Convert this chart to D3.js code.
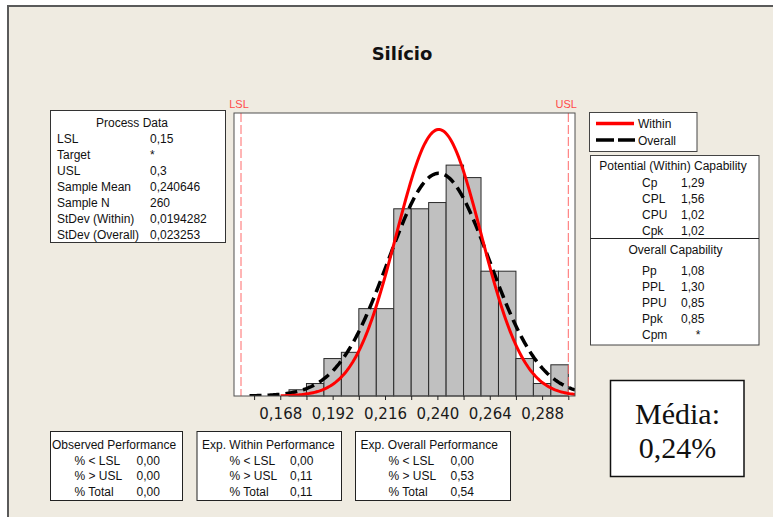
<!DOCTYPE html>
<html>
<head>
<meta charset="utf-8">
<script src="https://cdn.jsdelivr.net/npm/d3@7"></script>
<style>
  html, body { margin: 0; padding: 0; background: #ffffff; }
  svg { display: block; }
</style>
</head>
<body>
<svg id="chart" width="773" height="517"></svg>
<script>
// ---- data ----
const title = "Silício";
const binEdges = [0.172, 0.180, 0.188, 0.196, 0.204, 0.212, 0.220, 0.228, 0.236,
                  0.244, 0.252, 0.260, 0.268, 0.276, 0.284, 0.292, 0.300];
const binCounts = [1, 2, 6, 7, 14, 14, 30, 30, 31, 37, 35, 20, 20, 6, 2, 5];
const xTicks = [0.156, 0.168, 0.180, 0.192, 0.204, 0.216, 0.228, 0.240, 0.252,
                0.264, 0.276, 0.288, 0.300];
const xTickLabels = [0.168, 0.192, 0.216, 0.240, 0.264, 0.288];
const LSL = 0.15, USL = 0.3;
const sampleMean = 0.240646, sampleN = 260;
const sdWithin = 0.0194282, sdOverall = 0.023253;

const processLabels = ["LSL", "Target", "USL", "Sample Mean", "Sample N", "StDev (Within)", "StDev (Overall)"];
const processValues = ["0,15", "*", "0,3", "0,240646", "260", "0,0194282", "0,023253"];

const withinLabels = ["Cp", "CPL", "CPU", "Cpk"];
const withinValues = ["1,29", "1,56", "1,02", "1,02"];
const overallLabels = ["Pp", "PPL", "PPU", "Ppk", "Cpm"];
const overallValues = ["1,08", "1,30", "0,85", "0,85", "*"];

const perfRowLabels = ["% < LSL", "% > USL", "% Total"];
const perfTitles = ["Observed Performance", "Exp. Within Performance", "Exp. Overall Performance"];
const observedPerf = ["0,00", "0,00", "0,00"];
const withinPerf = ["0,00", "0,11", "0,11"];
const overallPerf = ["0,00", "0,53", "0,54"];

const mediaLines = ["Média:", "0,24%"];

// ---- setup ----
const svg = d3.select("#chart");
const sans = "'Liberation Sans', Arial, sans-serif";
const bg = "#EFEBE1";

const ptBR = d3.formatLocale({ decimal: ",", thousands: ".", grouping: [3], currency: ["", ""] });
const fmt3 = ptBR.format(".3f");

// outer frame
svg.append("rect").attr("x", 8).attr("y", 6).attr("width", 800).attr("height", 600)
  .attr("fill", bg).attr("stroke", "#5a5a5a").attr("stroke-width", 2);

// title
svg.append("text").attr("x", 402).attr("y", 60).attr("text-anchor", "middle")
  .attr("font-family", "'DejaVu Sans', Verdana, sans-serif").attr("font-weight", "bold")
  .attr("font-size", 18).attr("fill", "#111").text(title);

// ---- histogram panel ----
const plot = { left: 234, right: 575, top: 113, bottom: 396 };
const x = d3.scaleLinear().domain([0.14679, 0.30307]).range([plot.left, plot.right]);
const y = d3.scaleLinear().domain([0, 45.35]).range([plot.bottom, plot.top]);

svg.append("rect").attr("x", plot.left).attr("y", plot.top)
  .attr("width", plot.right - plot.left).attr("height", plot.bottom - plot.top)
  .attr("fill", "#ffffff");

svg.append("defs").append("clipPath").attr("id", "plotClip")
  .append("rect").attr("x", plot.left).attr("y", plot.top - 2)
  .attr("width", plot.right - plot.left).attr("height", plot.bottom - plot.top + 2);

const bars = binCounts.map((c, i) => ({ x0: binEdges[i], x1: binEdges[i + 1], count: c }));
svg.append("g").selectAll("rect").data(bars).join("rect")
  .attr("x", d => x(d.x0)).attr("y", d => y(d.count))
  .attr("width", d => x(d.x1) - x(d.x0)).attr("height", d => y(0) - y(d.count))
  .attr("fill", "#C0C0C0").attr("stroke", "#2a2a2a").attr("stroke-width", 1);

// spec limit lines
[[LSL, "LSL"], [USL, "USL"]].forEach(([v, name]) => {
  svg.append("line").attr("x1", x(v)).attr("x2", x(v)).attr("y1", plot.top).attr("y2", plot.bottom)
    .attr("stroke", "#FF6A6A").attr("stroke-width", 1).attr("stroke-dasharray", "9,3");
  svg.append("text").attr("x", x(v) - 2).attr("y", 108).attr("text-anchor", "middle")
    .attr("font-family", sans).attr("font-size", 11).attr("fill", "#FF4A4A").text(name);
});

// fitted normal curves, scaled to histogram counts
const binWidth = binEdges[1] - binEdges[0];
function normalCount(v, sd) {
  return sampleN * binWidth * Math.exp(-0.5 * ((v - sampleMean) / sd) ** 2) / (sd * Math.sqrt(2 * Math.PI));
}
function curvePoints(sd) {
  const start = sampleMean - 3.73 * sd, end = x.domain()[1];
  const n = 200;
  return d3.range(n + 1).map(i => start + (end - start) * i / n);
}
const line = sd => d3.line().x(v => x(v)).y(v => y(normalCount(v, sd)));

const curves = svg.append("g").attr("clip-path", "url(#plotClip)");
curves.append("path").datum(curvePoints(sdOverall)).attr("d", line(sdOverall))
  .attr("fill", "none").attr("stroke", "#000").attr("stroke-width", 3.5)
  .attr("stroke-dasharray", "12,6");
curves.append("path").datum(curvePoints(sdWithin)).attr("d", line(sdWithin))
  .attr("fill", "none").attr("stroke", "#FF0000").attr("stroke-width", 3);

// plot border
svg.append("rect").attr("x", plot.left).attr("y", plot.top)
  .attr("width", plot.right - plot.left).attr("height", plot.bottom - plot.top)
  .attr("fill", "none").attr("stroke", "#505050").attr("stroke-width", 1);

// x axis
const axis = d3.axisBottom(x).tickValues(xTicks).tickSize(4).tickPadding(8)
  .tickFormat(d => xTickLabels.some(t => Math.abs(t - d) < 1e-9) ? fmt3(d) : "");
const ax = svg.append("g").attr("transform", `translate(0,${plot.bottom})`).call(axis);
ax.select(".domain").remove();
ax.selectAll(".tick line").attr("stroke", "#222");
ax.selectAll(".tick text").attr("font-family", "'DejaVu Sans', Verdana, sans-serif")
  .attr("font-size", 15).attr("fill", "#1a1a1a");

// ---- text boxes ----
function box(x0, y0, x1, y1, stroke) {
  svg.append("rect").attr("x", x0).attr("y", y0).attr("width", x1 - x0).attr("height", y1 - y0)
    .attr("fill", "#ffffff").attr("stroke", stroke || "#333").attr("stroke-width", 1);
}
function txt(xp, yp, s, anchor, size) {
  return svg.append("text").attr("x", xp).attr("y", yp).attr("text-anchor", anchor || "start")
    .attr("font-family", sans).attr("font-size", size || 12).attr("fill", "#111").text(s);
}

// process data
box(50.5, 110.5, 225.5, 242.5);
txt(132, 126.5, "Process Data", "middle");
processLabels.forEach((l, i) => {
  txt(57, 143 + i * 15.95, l);
  txt(150, 143 + i * 15.95, processValues[i]);
});

// legend
box(589.5, 112.5, 697, 151.5, "#444");
svg.append("line").attr("x1", 596).attr("x2", 634).attr("y1", 123.5).attr("y2", 123.5)
  .attr("stroke", "#FF0000").attr("stroke-width", 3.5);
svg.append("line").attr("x1", 596).attr("x2", 635).attr("y1", 140).attr("y2", 140)
  .attr("stroke", "#000").attr("stroke-width", 3.5).attr("stroke-dasharray", "18,4");
txt(638, 128, "Within");
txt(638, 144.5, "Overall");

// capability
box(590.5, 155.5, 759, 345, "#444");
svg.append("line").attr("x1", 590.5).attr("x2", 759).attr("y1", 238.5).attr("y2", 238.5)
  .attr("stroke", "#222").attr("stroke-width", 1);
txt(673, 170, "Potential (Within) Capability", "middle");
withinLabels.forEach((l, i) => {
  txt(642, 186.5 + i * 16, l);
  txt(681, 186.5 + i * 16, withinValues[i]);
});
txt(675.5, 254, "Overall Capability", "middle");
overallLabels.forEach((l, i) => {
  txt(642, 274.5 + i * 16, l);
  const v = overallValues[i];
  txt(v === "*" ? 698 : 681, 274.5 + i * 16, v, v === "*" ? "middle" : "start");
});

// performance boxes
const perfBoxes = [
  { x0: 50, x1: 182.5, tx: 52, lx: 74.5, vx: 136.5, vals: observedPerf },
  { x0: 196.5, x1: 341.5, tx: 202, lx: 229.5, vx: 290, vals: withinPerf },
  { x0: 355, x1: 510.5, tx: 360.5, lx: 388.5, vx: 450.5, vals: overallPerf }
];
perfBoxes.forEach((b, k) => {
  box(b.x0 + 0.5, 431.5, b.x1, 500.5, "#222");
  txt(b.tx, 449, perfTitles[k]);
  perfRowLabels.forEach((l, i) => {
    const yy = [464.5, 480, 495.5][i];
    txt(b.lx, yy, l);
    txt(b.vx, yy, b.vals[i]);
  });
});

// mean callout
svg.append("rect").attr("x", 610.5).attr("y", 380.5).attr("width", 133.5).attr("height", 96)
  .attr("fill", "#ffffff").attr("stroke", "#111").attr("stroke-width", 1.5);
mediaLines.forEach((s, i) => {
  svg.append("text").attr("x", 677.5).attr("y", [423.5, 457.5][i]).attr("text-anchor", "middle")
    .attr("font-family", "'Liberation Serif', 'Times New Roman', serif").attr("font-size", 30)
    .attr("fill", "#111").text(s);
});
</script>
</body>
</html>
